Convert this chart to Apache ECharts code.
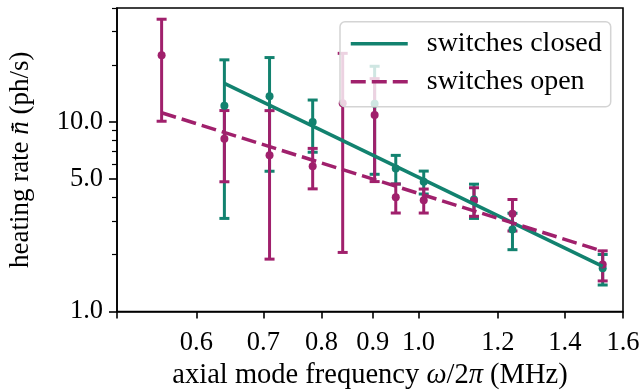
<!DOCTYPE html>
<html>
<head>
<meta charset="utf-8">
<script src="https://cdn.jsdelivr.net/npm/echarts@6/dist/echarts.min.js"></script>
<style>html,body{margin:0;padding:0;background:#fff}#c{width:643px;height:392px}</style>
</head>
<body>
<div id="c"></div>
<script>
// switches closed: frequency (MHz), heating rate (ph/s), symmetric error
const closedX = [0.640, 0.710, 0.784, 0.904, 0.949, 1.012, 1.136, 1.241, 1.527];
const closedY = [12.2, 13.7, 10.0, 12.5, 5.69, 4.84, 3.90, 2.71, 1.69];
const closedErr = [9.1, 8.2, 3.07, 7.2, 0.98, 0.67, 0.80, 0.59, 0.31];
// switches open
const openX = [0.554, 0.640, 0.710, 0.784, 0.840, 0.904, 0.949, 1.012, 1.136, 1.241, 1.527];
const openY = [22.5, 8.17, 6.69, 5.85, 12.55, 10.9, 4.01, 3.87, 3.84, 3.28, 1.77];
const openErr = [12.4, 3.33, 4.8, 1.41, 10.5, 6.05, 0.70, 0.56, 0.66, 0.62, 0.32];
// power-law fits (end points)
const closedFitX = [0.640, 1.527];
const closedFitY = [16.0, 1.73];
const openFitX = [0.554, 1.527];
const openFitY = [11.2, 2.08];
// ticks
const xTicks = [0.5, 0.6, 0.7, 0.8, 0.9, 1.0, 1.2, 1.4, 1.6];
const xLabels = [0.6, 0.7, 0.8, 0.9, 1.0, 1.2, 1.4, 1.6];
const yMajor = [1, 5, 10];
const yMinor = [2, 3, 4, 6, 7, 8, 9, 20, 30, 40];

const TEAL = '#12826f';
const WINE = '#a0206c';
const FONT = 'Liberation Serif';

function errData(xs, ys, es) {
  return xs.map((x, i) => [x, ys[i] - es[i], ys[i] + es[i]]);
}
function pts(xs, ys) { return xs.map((x, i) => [x, ys[i]]); }

function errRender(color) {
  return function (params, api) {
    const x = api.value(0), lo = api.value(1), hi = api.value(2);
    const a = api.coord([x, hi]), b = api.coord([x, lo]);
    const hw = 5;
    const st = { stroke: color, lineWidth: 3 };
    return {
      type: 'group',
      children: [
        { type: 'line', shape: { x1: a[0], y1: a[1], x2: b[0], y2: b[1] }, style: st },
        { type: 'line', shape: { x1: a[0] - hw, y1: a[1], x2: a[0] + hw, y2: a[1] }, style: st },
        { type: 'line', shape: { x1: b[0] - hw, y1: b[1], x2: b[0] + hw, y2: b[1] }, style: st }
      ]
    };
  };
}

const chart = echarts.init(document.getElementById('c'), null, { renderer: 'canvas' });
const fmt1 = v => Number(v).toFixed(1);

chart.setOption({
  animation: false,
  backgroundColor: '#fff',
  grid: { left: 117, top: 8, width: 506, height: 303.5, show: true, borderColor: '#000', borderWidth: 1.6, backgroundColor: 'transparent', containLabel: false, outerBoundsMode: 'none' },
  xAxis: {
    type: 'log', logBase: 10, min: 0.5, max: 1.6,
    name: 'axial mode frequency {i|ω}/2{i|π} (MHz)',
    nameLocation: 'middle', nameGap: 49,
    nameTextStyle: { fontFamily: FONT, fontSize: 28.5, color: '#000', rich: { i: { fontFamily: FONT, fontSize: 28.5, fontStyle: 'italic', color: '#000' } } },
    axisLine: { lineStyle: { color: '#000', width: 1.6 } },
    axisTick: { show: true, length: 7, lineStyle: { color: '#000', width: 1.6 }, customValues: xTicks },
    axisLabel: { customValues: xLabels, formatter: fmt1, fontFamily: FONT, fontSize: 26.5, color: '#000', margin: 18 },
    splitLine: { show: false },
    minorTick: { show: false }
  },
  yAxis: [{
    type: 'log', logBase: 10, min: 1, max: 40,
    name: 'heating rate {i|n\u0304\u0307} (ph/s)',
    nameLocation: 'middle', nameGap: 83,
    nameTextStyle: { fontFamily: FONT, fontSize: 27, color: '#000', rich: { i: { fontFamily: FONT, fontSize: 27, fontStyle: 'italic', color: '#000' } } },
    axisLine: { show: true, lineStyle: { color: '#000', width: 1.6 } },
    axisTick: { show: true, length: 8, lineStyle: { color: '#000', width: 1.6 }, customValues: yMajor },
    axisLabel: { customValues: yMajor, formatter: fmt1, fontFamily: FONT, fontSize: 26.5, color: '#000', margin: 14 },
    splitLine: { show: false }
  }, {
    type: 'log', logBase: 10, min: 1, max: 40, position: 'left',
    axisLine: { show: false },
    axisTick: { show: true, length: 5, lineStyle: { color: '#000', width: 1.2 }, customValues: yMinor },
    axisLabel: { show: false },
    splitLine: { show: false }
  }],
  legend: {
    data: ['switches closed', 'switches open'],
    orient: 'vertical', left: 340, top: 21.7,
    padding: [8, 9, 11, 9],
    itemWidth: 57, itemHeight: 14, itemGap: 10,
    backgroundColor: 'rgba(255,255,255,0.8)', borderColor: '#d4d4d4', borderWidth: 1.5, borderRadius: 5,
    itemStyle: { opacity: 0, color: 'transparent', borderColor: 'transparent', borderWidth: 0 },
    lineStyle: { width: 'inherit' },
    textStyle: { fontFamily: FONT, fontSize: 28, color: '#000', lineHeight: 28, padding: [0, 0, 0, 14] }
  },
  series: [
    { name: 'closed err', type: 'custom', renderItem: errRender(TEAL), data: errData(closedX, closedY, closedErr), encode: { x: 0, y: [1, 2] }, silent: true },
    { name: 'closed pts', type: 'scatter', data: pts(closedX, closedY), symbol: 'circle', symbolSize: 8, itemStyle: { color: TEAL, opacity: 1 } },
    { name: 'open err', type: 'custom', renderItem: errRender(WINE), data: errData(openX, openY, openErr), encode: { x: 0, y: [1, 2] }, silent: true },
    { name: 'open pts', type: 'scatter', data: pts(openX, openY), symbol: 'circle', symbolSize: 8, itemStyle: { color: WINE, opacity: 1 } },
    { name: 'switches closed', type: 'line', data: pts(closedFitX, closedFitY), symbol: 'none', showSymbol: false, lineStyle: { color: TEAL, width: 3.5 }, itemStyle: { color: TEAL } },
    { name: 'switches open', type: 'line', data: pts(openFitX, openFitY), symbol: 'none', showSymbol: false, lineStyle: { color: WINE, width: 3.5, type: [15, 6] }, itemStyle: { color: WINE } }
  ]
});
</script>
</body>
</html>
